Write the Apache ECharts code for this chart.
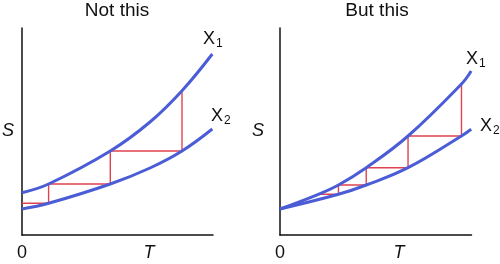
<!DOCTYPE html>
<html><head><meta charset="utf-8">
<script src="https://cdn.jsdelivr.net/npm/echarts@6/dist/echarts.min.js"></script>
<style>html,body{margin:0;padding:0;background:#fff}#c{width:500px;height:264px}</style>
</head><body><div id="c"></div>
<script>
// Panel titles
var panelTitles = ["Not this", "But this"];
// Left panel ("Not this"): curves as [T, S]
var leftX1 = [[0, 42.3], [26.6, 51], [88.3, 84], [128, 113], [160, 144.3], [190.3, 181]];
var leftX2 = [[0, 26], [26.6, 31.7], [88.3, 51], [128, 67], [160, 84], [190.3, 106]];
var leftSteps = [[0, 31.7], [26.6, 31.7], [26.6, 51], [88.3, 51], [88.3, 84], [160, 84], [160, 144.3]];
// Right panel ("But this")
var rightX1 = [[0, 26], [38.3, 40.7], [58.3, 50], [86, 67.3], [127.7, 99], [181, 151], [190.7, 164]];
var rightX2 = [[0, 26], [58.3, 40.7], [86, 50], [127.7, 67.3], [181, 99], [190.7, 105.7]];
var rightSteps = [[38.3, 40.7], [58.3, 40.7], [58.3, 50], [86, 50], [86, 67.3], [127.7, 67.3], [127.7, 99], [181, 99], [181, 151]];
var axisNames = {x: "T", y: "S", origin: "0"};
var curveNames = ["X", "1", "2"];

var BLUE = "#4a5dd6", RED = "#e0434f", INK = "#111";
var FONT = "Liberation Sans";
var grids = [
  {left: 22, top: 28, width: 191, height: 207},
  {left: 280, top: 28, width: 191.5, height: 207}
];
function xA(i){return {gridIndex:i,type:'value',min:0,max:191,axisLine:{show:true,lineStyle:{color:INK,width:1.5}},axisTick:{show:false},axisLabel:{show:false},splitLine:{show:false}};}
function yA(i){return {gridIndex:i,type:'value',min:0,max:207,axisLine:{show:true,lineStyle:{color:INK,width:1.5}},axisTick:{show:false},axisLabel:{show:false},splitLine:{show:false}};}
function curve(i,d){return {type:'line',xAxisIndex:i,yAxisIndex:i,data:d,smooth:0.4,showSymbol:false,lineStyle:{color:BLUE,width:3},silent:true,z:3};}
function steps(i,d){return {type:'line',xAxisIndex:i,yAxisIndex:i,data:d,smooth:false,showSymbol:false,lineStyle:{color:RED,width:1.4},silent:true,z:2};}
function txt(x,y,t,font,size,align){return {type:'text',x:x,y:y,style:{text:t,fill:INK,font:(font||'')+' '+(size||18)+'px "'+FONT+'"',align:align||'center',verticalAlign:'middle'}};}

var chart = echarts.init(document.getElementById('c'), null, {renderer:'canvas'});
chart.setOption({
  animation:false,
  grid:grids,
  xAxis:[xA(0),xA(1)],
  yAxis:[yA(0),yA(1)],
  series:[curve(0,leftX1),curve(0,leftX2),steps(0,leftSteps),curve(1,rightX1),curve(1,rightX2),steps(1,rightSteps)],
  graphic:[
    txt(117,11,panelTitles[0],'',19),
    txt(377,11,panelTitles[1],'',19),
    txt(8,131,axisNames.y,'italic'),
    txt(258,131,axisNames.y,'italic'),
    txt(22,253,axisNames.origin),
    txt(280,253,axisNames.origin),
    txt(149,253,axisNames.x,'italic'),
    txt(399,253,axisNames.x,'italic'),
    txt(203,39,curveNames[0],'',18,'left'), txt(216,44,curveNames[1],'',12,'left'),
    txt(211,116,curveNames[0],'',18,'left'), txt(224,121,curveNames[2],'',12,'left'),
    txt(466,59,curveNames[0],'',18,'left'), txt(479,64,curveNames[1],'',12,'left'),
    txt(480,126,curveNames[0],'',18,'left'), txt(493,131,curveNames[2],'',12,'left')
  ]
});
</script></body></html>
